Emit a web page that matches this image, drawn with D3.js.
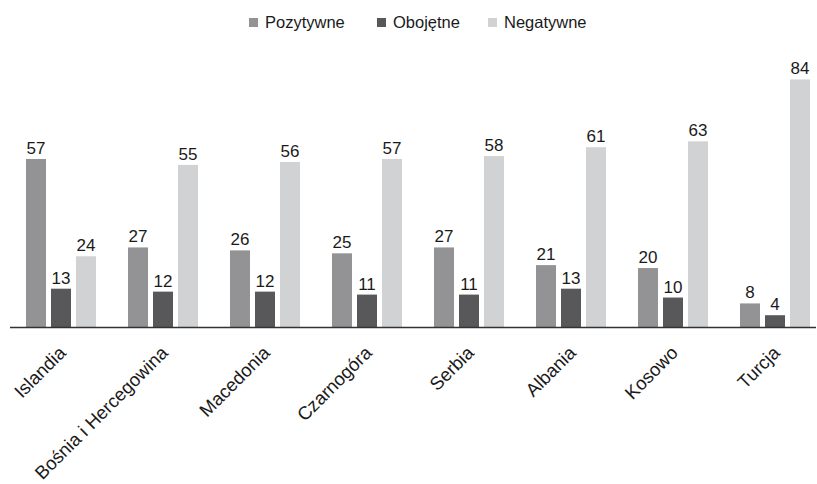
<!DOCTYPE html>
<html>
<head>
<meta charset="utf-8">
<script src="https://cdn.jsdelivr.net/npm/d3@7"></script>
<style>
  body { margin: 0; background: #fff; }
  svg { display: block; font-family: "Liberation Sans", Arial, sans-serif; }
</style>
</head>
<body>
<div id="chart"></div>
<script>
const COUNTRIES = ["Islandia", "Bośnia i Hercegowina", "Macedonia", "Czarnogóra", "Serbia", "Albania", "Kosowo", "Turcja"];
const SERIES = ["Pozytywne", "Obojętne", "Negatywne"];
const POZYTYWNE = [57, 27, 26, 25, 27, 21, 20, 8];
const OBOJETNE  = [13, 12, 12, 11, 11, 13, 10, 4];
const NEGATYWNE = [24, 55, 56, 57, 58, 61, 63, 84];
const COLORS = ["#939395", "#58585a", "#d1d2d4"];

const W = 817, H = 484;
const baseY = 327;

const svg = d3.select("#chart").append("svg")
  .attr("width", W).attr("height", H);

const values = [POZYTYWNE, OBOJETNE, NEGATYWNE];
const data = COUNTRIES.map((c, i) => ({
  country: c,
  vals: SERIES.map((s, j) => ({ key: s, value: values[j][i] }))
}));

/* -------------------- SCALES -------------------- */
const x0 = d3.scaleBand()
  .domain(COUNTRIES)
  .range([26, 810])
  .paddingInner(32 / 102)
  .paddingOuter(0);

const x1 = d3.scaleBand()
  .domain(SERIES)
  .range([0, x0.bandwidth()])
  .paddingInner(0.2);

const y = d3.scaleLinear()
  .domain([0, 100])
  .range([baseY, baseY - 294.7]);

/* -------------------- BARS -------------------- */
const groups = svg.selectAll("g.group")
  .data(data)
  .join("g")
  .attr("class", "group")
  .attr("transform", d => `translate(${x0(d.country)},0)`);

groups.selectAll("rect")
  .data(d => d.vals)
  .join("rect")
  .attr("x", d => x1(d.key))
  .attr("y", d => y(d.value))
  .attr("width", x1.bandwidth())
  .attr("height", d => baseY - y(d.value))
  .attr("fill", (d, i) => COLORS[i]);

groups.selectAll("text.val")
  .data(d => d.vals)
  .join("text")
  .attr("class", "val")
  .attr("x", d => x1(d.key) + x1.bandwidth() / 2)
  .attr("y", d => y(d.value) - 5)
  .attr("text-anchor", "middle")
  .attr("font-size", 17)
  .attr("fill", "#1a1a1a")
  .text(d => d.value);

/* -------------------- AXIS -------------------- */
const xAxis = svg.append("g")
  .attr("transform", `translate(0,${baseY})`)
  .call(d3.axisBottom(x0).tickSize(0).tickPadding(0));

xAxis.select(".domain")
  .attr("d", "M10,0.5H816")
  .attr("stroke", "#333")
  .attr("stroke-width", 1.6);

xAxis.selectAll(".tick text")
  .attr("font-family", "Liberation Sans, Arial, sans-serif")
  .attr("font-size", 18.5)
  .attr("fill", "#1a1a1a")
  .attr("text-anchor", "end")
  .attr("dy", null)
  .attr("y", 0)
  .attr("transform", "translate(6,27) rotate(-45)");

/* -------------------- LEGEND -------------------- */
const legendX = [249, 377, 488];
const legend = svg.append("g");
SERIES.forEach((s, i) => {
  legend.append("rect")
    .attr("x", legendX[i]).attr("y", 18)
    .attr("width", 9).attr("height", 9)
    .attr("fill", COLORS[i]);
  legend.append("text")
    .attr("x", legendX[i] + 16).attr("y", 28)
    .attr("font-size", 16.5)
    .attr("fill", "#1a1a1a")
    .text(s);
});
</script>
</body>
</html>
